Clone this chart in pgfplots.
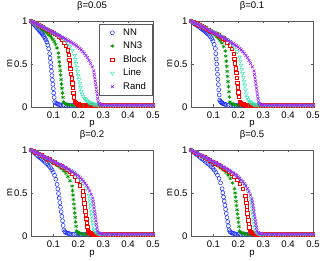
\documentclass[border=0pt]{standalone}
\usepackage{pgfplots}
\usepackage{pgfplotstable}
\pgfplotsset{compat=1.18}
\usepackage{fontspec}
\setmainfont{Liberation Sans}
\newcommand\ff{\fontsize{9.6}{10.5}\selectfont}
\definecolor{cNN}{RGB}{20,40,255}
\definecolor{cNNt}{RGB}{0,150,0}
\definecolor{cBl}{RGB}{255,0,0}
\definecolor{cLi}{RGB}{60,230,180}
\definecolor{cRa}{RGB}{160,40,255}
\pgfplotsset{
 sNN/.style={only marks, mark=o, mark size=2bp, color=cNN, line width=0.5bp},
 sNNt/.style={only marks, mark=asterisk, mark size=2bp, color=cNNt, line width=0.6bp},
 sBl/.style={only marks, mark=square, mark size=1.7bp, color=cBl, line width=0.5bp},
 sLi/.style={only marks, mark=triangle, mark size=2.2bp, mark options={rotate=180}, color=cLi, line width=0.5bp},
 sRa/.style={only marks, mark=x, mark size=2bp, color=cRa, line width=0.7bp},
 panel/.style={
  scale only axis, width=122bp, height=86bp,
  xmin=0.01, xmax=0.5, ymin=0, ymax=1, clip=false,
  xtick={0.1,0.2,0.3,0.4,0.5}, ytick={0,0.5,1},
  xticklabels={0.1,0.2,0.3,0.4,0.5}, yticklabels={0,0.5,1},
  tick align=inside, major tick length=2.5bp,
  axis line style={black!65, line width=0.5bp},
  every tick/.style={black!65, line width=0.4bp},
  xlabel={p}, ylabel={m},
  label style={font=\ff}, tick label style={font=\ff},
  title style={font=\ff, at={(0.5,1)}, anchor=base, yshift=7bp, inner sep=0pt},
  xlabel style={at={(axis description cs:0.5,0)}, anchor=base, yshift=-19bp, inner sep=0pt},
  ylabel style={at={(axis description cs:-0.153,0.5)}, anchor=base, inner sep=0pt},
  xticklabel style={anchor=base, yshift=-11.5bp, inner sep=0pt},
  legend image code/.code={\path (-8.5bp,0) (8.5bp,0); \draw[#1] plot coordinates {(0bp,0bp)};},
 }
}
\pgfplotstableread{
p m
0.13 0.02
0.14 0.02
0.15 0.02
0.16 0.02
0.17 0.02
0.18 0.02
0.19 0.02
0.20 0.02
0.21 0.02
0.22 0.02
0.23 0.02
0.24 0.02
0.25 0.02
0.26 0.02
0.27 0.02
0.28 0.02
0.29 0.02
0.30 0.02
0.31 0.02
0.32 0.02
0.33 0.02
0.34 0.02
0.35 0.02
0.36 0.02
0.37 0.02
0.38 0.02
0.39 0.02
0.40 0.02
0.41 0.02
0.42 0.02
0.43 0.02
0.44 0.02
0.45 0.02
0.46 0.02
0.47 0.02
0.48 0.02
0.49 0.02
0.50 0.02
}\tail
\begin{document}
\begin{tikzpicture}
\useasboundingbox (0,0) rectangle (320bp,261bp);
% ---------------- beta = 0.05
\begin{axis}[panel, at={(31bp,154bp)}, anchor=south west, title={β=0.05},
 legend style={at={(axis description cs:0.998,0.965)}, anchor=north east, draw=black!65, line width=0.4bp, font=\ff, row sep=1.2bp, inner xsep=4bp, inner ysep=2.5bp, fill=white},
 legend cell align=left]
\addplot[sNN] coordinates {(0.01,1)(0.0138,0.988)(0.0175,0.975)(0.0213,0.963)(0.025,0.951)(0.0288,0.938)(0.0325,0.926)(0.0363,0.914)(0.04,0.901)(0.0438,0.889)(0.0475,0.876)(0.0513,0.863)(0.055,0.85)(0.0588,0.835)(0.0625,0.819)(0.0663,0.801)(0.07,0.78)(0.0738,0.754)(0.0775,0.72)(0.0813,0.677)(0.085,0.62)
(0.0868,0.569)(0.0886,0.518)(0.0905,0.467)(0.0923,0.416)(0.0941,0.365)(0.0959,0.315)(0.0977,0.264)(0.0995,0.213)(0.1014,0.162)(0.1032,0.111)(0.105,0.06)(0.11,0.045)(0.115,0.037)(0.12,0.03)(0.125,0.027)};
\addlegendentry{NN}
\addplot[sNN, forget plot, restrict x to domain=0.13:0.5] table[x=p,y=m]{\tail};
\addplot[sNNt] coordinates {(0.01,1)(0.0155,0.988)(0.021,0.976)(0.0265,0.964)(0.032,0.952)(0.0375,0.94)(0.043,0.928)(0.0485,0.916)(0.054,0.904)(0.0595,0.892)(0.065,0.879)(0.0705,0.867)(0.076,0.854)(0.0815,0.84)(0.087,0.824)(0.0925,0.807)(0.098,0.786)(0.1035,0.76)(0.109,0.728)(0.1145,0.686)(0.12,0.63)
(0.1218,0.578)(0.1236,0.526)(0.1255,0.475)(0.1273,0.423)(0.1291,0.371)(0.1309,0.319)(0.1327,0.267)(0.1345,0.216)(0.1364,0.164)(0.1382,0.112)(0.14,0.06)(0.145,0.045)(0.15,0.037)(0.155,0.03)(0.16,0.027)};
\addlegendentry{NN3}
\addplot[sNNt, forget plot, restrict x to domain=0.17:0.5] table[x=p,y=m]{\tail};
\addplot[sBl] coordinates {(0.01,1)(0.0174,0.989)(0.0248,0.978)(0.0322,0.967)(0.0396,0.956)(0.047,0.945)(0.0544,0.934)(0.0618,0.923)(0.0692,0.912)(0.0766,0.9)(0.084,0.889)(0.0914,0.877)(0.0988,0.865)(0.1062,0.853)(0.1136,0.838)(0.121,0.822)(0.1284,0.803)(0.1358,0.78)(0.1432,0.75)(0.1506,0.711)(0.158,0.66)
(0.1605,0.605)(0.1629,0.551)(0.1654,0.496)(0.1678,0.442)(0.1703,0.387)(0.1727,0.333)(0.1752,0.278)(0.1776,0.224)(0.1801,0.169)(0.1825,0.115)(0.185,0.06)(0.19,0.05)(0.195,0.04)(0.2,0.033)(0.205,0.028)};
\addlegendentry{Block}
\addplot[sBl, forget plot, restrict x to domain=0.21:0.5] table[x=p,y=m]{\tail};
\addplot[sLi] coordinates {(0.01,1)(0.0188,0.987)(0.0275,0.974)(0.0363,0.961)(0.045,0.948)(0.0538,0.935)(0.0625,0.922)(0.0713,0.909)(0.08,0.896)(0.0888,0.883)(0.0975,0.869)(0.1063,0.856)(0.115,0.842)(0.1238,0.827)(0.1325,0.81)(0.1413,0.791)(0.15,0.769)(0.1588,0.741)(0.1675,0.706)(0.1763,0.66)(0.185,0.6)
(0.188,0.553)(0.191,0.507)(0.194,0.46)(0.197,0.413)(0.2,0.367)(0.203,0.32)(0.206,0.273)(0.209,0.227)(0.212,0.18)(0.215,0.15)(0.22,0.12)(0.225,0.1)(0.23,0.085)(0.235,0.072)(0.24,0.062)(0.245,0.054)(0.25,0.047)(0.255,0.042)(0.26,0.037)(0.265,0.033)(0.27,0.03)(0.275,0.027)};
\addlegendentry{Line}
\addplot[sLi, forget plot, restrict x to domain=0.28:0.5] table[x=p,y=m]{\tail};
\addplot[sRa] coordinates {(0.01,1)(0.0226,0.981)(0.0352,0.962)(0.0478,0.943)(0.0604,0.925)(0.073,0.906)(0.0856,0.887)(0.0982,0.868)(0.1108,0.849)(0.1234,0.83)(0.136,0.811)(0.1486,0.791)(0.1612,0.77)(0.1738,0.748)(0.1864,0.724)(0.199,0.697)(0.2116,0.664)(0.2242,0.624)(0.2368,0.573)(0.2494,0.507)(0.262,0.42)
(0.0163,0.991)(0.0289,0.972)(0.0415,0.953)(0.0541,0.934)(0.0667,0.915)(0.0793,0.896)(0.0919,0.877)(0.1045,0.859)(0.1171,0.84)(0.1297,0.82)(0.1423,0.801)(0.1549,0.781)(0.1675,0.76)(0.1801,0.737)(0.1927,0.711)(0.2053,0.681)(0.2179,0.645)(0.2305,0.6)(0.2431,0.542)(0.2557,0.467)
(0.264,0.38)(0.266,0.34)(0.268,0.3)(0.27,0.26)(0.272,0.22)(0.274,0.18)(0.276,0.14)(0.278,0.1)(0.28,0.06)(0.285,0.04)(0.29,0.03)(0.295,0.025)};
\addlegendentry{Rand}
\addplot[sRa, forget plot, restrict x to domain=0.30:0.5] table[x=p,y=m]{\tail};
\end{axis}
% ---------------- beta = 0.1
\begin{axis}[panel, at={(191bp,154bp)}, anchor=south west, title={β=0.1}]
\addplot[sNN] coordinates {(0.01,1)(0.0149,0.99)(0.0198,0.979)(0.0247,0.969)(0.0296,0.958)(0.0345,0.948)(0.0394,0.938)(0.0443,0.927)(0.0492,0.917)(0.0541,0.906)(0.059,0.896)(0.0639,0.885)(0.0688,0.873)(0.0737,0.861)(0.0786,0.848)(0.0835,0.833)(0.0884,0.815)(0.0933,0.793)(0.0982,0.765)(0.1031,0.728)(0.108,0.68)
(0.1097,0.62)(0.1114,0.56)(0.1131,0.5)(0.1148,0.44)(0.1165,0.38)(0.1182,0.32)(0.1199,0.26)(0.1216,0.2)(0.1233,0.14)(0.125,0.08)(0.128,0.065)(0.131,0.055)(0.134,0.048)(0.137,0.042)(0.14,0.037)(0.145,0.032)(0.15,0.028)};
\addplot[sNN, forget plot, restrict x to domain=0.16:0.5] table[x=p,y=m]{\tail};
\addplot[sNNt] coordinates {(0.01,1)(0.0169,0.989)(0.0238,0.977)(0.0307,0.966)(0.0376,0.955)(0.0445,0.943)(0.0514,0.932)(0.0583,0.92)(0.0652,0.909)(0.0721,0.897)(0.079,0.886)(0.0859,0.874)(0.0928,0.861)(0.0997,0.848)(0.1066,0.834)(0.1135,0.817)(0.1204,0.797)(0.1273,0.773)(0.1342,0.743)(0.1411,0.703)(0.148,0.65)
(0.1498,0.591)(0.1516,0.532)(0.1534,0.473)(0.1552,0.414)(0.157,0.355)(0.1588,0.296)(0.1606,0.237)(0.1624,0.178)(0.1642,0.119)(0.166,0.06)(0.17,0.045)(0.175,0.037)(0.18,0.031)(0.185,0.027)};
\addplot[sNNt, forget plot, restrict x to domain=0.19:0.5] table[x=p,y=m]{\tail};
\addplot[sBl] coordinates {(0.01,1)(0.0186,0.988)(0.0272,0.975)(0.0358,0.963)(0.0444,0.951)(0.053,0.938)(0.0616,0.926)(0.0702,0.914)(0.0788,0.901)(0.0874,0.889)(0.096,0.876)(0.1046,0.863)(0.1132,0.85)(0.1218,0.835)(0.1304,0.819)(0.139,0.801)(0.1476,0.78)(0.1562,0.754)(0.1648,0.72)(0.1734,0.677)(0.182,0.62)
(0.1843,0.564)(0.1866,0.508)(0.1889,0.452)(0.1912,0.396)(0.1935,0.34)(0.1958,0.284)(0.1981,0.228)(0.2004,0.172)(0.2027,0.116)(0.205,0.06)(0.21,0.045)(0.215,0.036)(0.22,0.03)(0.225,0.027)};
\addplot[sBl, forget plot, restrict x to domain=0.23:0.5] table[x=p,y=m]{\tail};
\addplot[sLi] coordinates {(0.01,1)(0.0198,0.986)(0.0295,0.973)(0.0393,0.959)(0.049,0.945)(0.0588,0.932)(0.0685,0.918)(0.0783,0.904)(0.088,0.891)(0.0978,0.877)(0.1075,0.863)(0.1173,0.849)(0.127,0.834)(0.1368,0.818)(0.1465,0.8)(0.1563,0.781)(0.166,0.757)(0.1758,0.728)(0.1855,0.691)(0.1953,0.643)(0.205,0.58)
(0.208,0.532)(0.211,0.484)(0.214,0.437)(0.217,0.389)(0.22,0.341)(0.223,0.293)(0.226,0.246)(0.229,0.198)(0.232,0.15)(0.236,0.11)(0.24,0.085)(0.245,0.065)(0.25,0.052)(0.255,0.043)(0.26,0.036)(0.265,0.031)(0.27,0.028)(0.275,0.026)};
\addplot[sLi, forget plot, restrict x to domain=0.28:0.5] table[x=p,y=m]{\tail};
\addplot[sRa] coordinates {(0.01,1)(0.0226,0.981)(0.0352,0.962)(0.0478,0.943)(0.0604,0.925)(0.073,0.906)(0.0856,0.887)(0.0982,0.868)(0.1108,0.849)(0.1234,0.83)(0.136,0.811)(0.1486,0.791)(0.1612,0.77)(0.1738,0.748)(0.1864,0.724)(0.199,0.697)(0.2116,0.664)(0.2242,0.624)(0.2368,0.573)(0.2494,0.507)(0.263,0.42)
(0.0163,0.991)(0.0289,0.972)(0.0415,0.953)(0.0541,0.934)(0.0667,0.915)(0.0793,0.896)(0.0919,0.877)(0.1045,0.859)(0.1171,0.84)(0.1297,0.82)(0.1423,0.801)(0.1549,0.781)(0.1675,0.76)(0.1801,0.737)(0.1927,0.711)(0.2053,0.681)(0.2179,0.645)(0.2305,0.6)(0.2431,0.542)(0.2562,0.467)
(0.265,0.38)(0.267,0.34)(0.269,0.3)(0.271,0.26)(0.273,0.22)(0.275,0.18)(0.277,0.14)(0.279,0.1)(0.281,0.06)(0.286,0.04)(0.291,0.03)(0.296,0.025)};
\addplot[sRa, forget plot, restrict x to domain=0.30:0.5] table[x=p,y=m]{\tail};
\end{axis}
% ---------------- beta = 0.2
\begin{axis}[panel, at={(31bp,25bp)}, anchor=south west, title={β=0.2}]
\addplot[sNN] coordinates {(0.01,1)(0.0153,0.987)(0.0205,0.974)(0.0258,0.961)(0.031,0.948)(0.0363,0.935)(0.0415,0.922)(0.0468,0.909)(0.052,0.896)(0.0573,0.883)(0.0625,0.869)(0.0678,0.856)(0.073,0.842)(0.0783,0.827)(0.0835,0.81)(0.0888,0.791)(0.094,0.769)(0.0993,0.741)(0.1045,0.706)(0.1098,0.66)(0.115,0.6)
(0.1177,0.547)(0.1204,0.494)(0.1231,0.441)(0.1258,0.388)(0.1285,0.335)(0.1312,0.282)(0.1339,0.229)(0.1366,0.176)(0.1393,0.123)(0.142,0.07)(0.146,0.05)(0.15,0.04)(0.155,0.034)(0.16,0.03)(0.165,0.027)};
\addplot[sNN, forget plot, restrict x to domain=0.17:0.5] table[x=p,y=m]{\tail};
\addplot[sNNt] coordinates {(0.01,1)(0.0183,0.986)(0.0265,0.973)(0.0348,0.959)(0.043,0.945)(0.0513,0.932)(0.0595,0.918)(0.0678,0.904)(0.076,0.891)(0.0843,0.877)(0.0925,0.863)(0.1008,0.849)(0.109,0.834)(0.1173,0.818)(0.1255,0.8)(0.1338,0.781)(0.142,0.757)(0.1503,0.728)(0.1585,0.691)(0.1668,0.643)(0.175,0.58)
(0.1768,0.528)(0.1786,0.476)(0.1804,0.424)(0.1822,0.372)(0.184,0.32)(0.1858,0.268)(0.1876,0.216)(0.1894,0.164)(0.1912,0.112)(0.193,0.06)(0.197,0.045)(0.2,0.038)(0.205,0.032)(0.21,0.028)};
\addplot[sNNt, forget plot, restrict x to domain=0.22:0.5] table[x=p,y=m]{\tail};
\addplot[sBl] coordinates {(0.01,1)(0.0204,0.984)(0.0307,0.969)(0.0411,0.953)(0.0514,0.938)(0.0618,0.922)(0.0721,0.906)(0.0825,0.891)(0.0928,0.875)(0.1032,0.859)(0.1135,0.843)(0.1239,0.827)(0.1342,0.81)(0.1446,0.792)(0.1549,0.772)(0.1653,0.749)(0.1756,0.722)(0.186,0.689)(0.1963,0.647)(0.2067,0.592)(0.217,0.52)
(0.2191,0.474)(0.2212,0.428)(0.2233,0.382)(0.2254,0.336)(0.2275,0.29)(0.2296,0.244)(0.2317,0.198)(0.2338,0.152)(0.2359,0.106)(0.238,0.06)(0.242,0.045)(0.246,0.036)(0.25,0.031)(0.255,0.027)};
\addplot[sBl, forget plot, restrict x to domain=0.26:0.5] table[x=p,y=m]{\tail};
\addplot[sLi] coordinates {(0.01,1)(0.0217,0.983)(0.0333,0.966)(0.045,0.948)(0.0566,0.931)(0.0683,0.914)(0.0799,0.897)(0.0916,0.879)(0.1032,0.862)(0.1149,0.845)(0.1265,0.827)(0.1382,0.809)(0.1498,0.79)(0.1615,0.77)(0.1731,0.748)(0.1848,0.723)(0.1964,0.693)(0.2081,0.657)(0.2197,0.61)(0.2314,0.55)(0.243,0.47)
(0.2449,0.431)(0.2468,0.392)(0.2487,0.353)(0.2506,0.314)(0.2525,0.275)(0.2544,0.236)(0.2563,0.197)(0.2582,0.158)(0.2601,0.119)(0.262,0.08)(0.266,0.06)(0.27,0.045)(0.275,0.035)(0.28,0.03)(0.285,0.027)};
\addplot[sLi, forget plot, restrict x to domain=0.29:0.5] table[x=p,y=m]{\tail};
\addplot[sRa] coordinates {(0.01,1)(0.0224,0.982)(0.0348,0.964)(0.0472,0.945)(0.0596,0.927)(0.072,0.909)(0.0844,0.891)(0.0968,0.873)(0.1092,0.854)(0.1216,0.836)(0.134,0.817)(0.1464,0.798)(0.1588,0.778)(0.1712,0.757)(0.1836,0.734)(0.196,0.707)(0.2084,0.676)(0.2208,0.637)(0.2332,0.588)(0.2456,0.524)(0.258,0.44)
(0.0162,0.991)(0.0286,0.973)(0.041,0.955)(0.0534,0.936)(0.0658,0.918)(0.0782,0.9)(0.0906,0.882)(0.103,0.863)(0.1154,0.845)(0.1278,0.827)(0.1402,0.808)(0.1526,0.788)(0.165,0.768)(0.1774,0.746)(0.1898,0.721)(0.2022,0.692)(0.2146,0.658)(0.227,0.614)(0.2394,0.558)(0.2518,0.485)
(0.2599,0.402)(0.2618,0.364)(0.2637,0.326)(0.2656,0.288)(0.2675,0.25)(0.2694,0.212)(0.2713,0.174)(0.2732,0.136)(0.2751,0.098)(0.277,0.06)(0.282,0.04)(0.287,0.03)(0.292,0.026)};
\addplot[sRa, forget plot, restrict x to domain=0.30:0.5] table[x=p,y=m]{\tail};
\end{axis}
% ---------------- beta = 0.5
\begin{axis}[panel, at={(191bp,25bp)}, anchor=south west, title={β=0.5}]
\addplot[sNN] coordinates {(0.01,1)(0.0163,0.985)(0.0225,0.971)(0.0288,0.956)(0.035,0.942)(0.0413,0.927)(0.0475,0.912)(0.0538,0.898)(0.06,0.883)(0.0663,0.868)(0.0725,0.853)(0.0788,0.838)(0.085,0.822)(0.0913,0.805)(0.0975,0.786)(0.1038,0.765)(0.11,0.74)(0.1163,0.708)(0.1225,0.669)(0.1288,0.618)(0.135,0.55)
(0.1378,0.502)(0.1406,0.454)(0.1434,0.406)(0.1462,0.358)(0.149,0.31)(0.1518,0.262)(0.1546,0.214)(0.1574,0.166)(0.1602,0.118)(0.163,0.07)(0.167,0.05)(0.171,0.04)(0.175,0.034)(0.18,0.03)(0.185,0.027)};
\addplot[sNN, forget plot, restrict x to domain=0.19:0.5] table[x=p,y=m]{\tail};
\addplot[sNNt] coordinates {(0.01,1)(0.0188,0.985)(0.0275,0.971)(0.0363,0.956)(0.045,0.942)(0.0538,0.927)(0.0625,0.912)(0.0713,0.898)(0.08,0.883)(0.0888,0.868)(0.0975,0.853)(0.1063,0.838)(0.115,0.822)(0.1238,0.805)(0.1325,0.786)(0.1413,0.765)(0.15,0.74)(0.1588,0.708)(0.1675,0.669)(0.1763,0.618)(0.185,0.55)
(0.187,0.501)(0.189,0.452)(0.191,0.403)(0.193,0.354)(0.195,0.305)(0.197,0.256)(0.199,0.207)(0.201,0.158)(0.203,0.109)(0.205,0.06)(0.21,0.045)(0.215,0.036)(0.22,0.03)(0.225,0.027)};
\addplot[sNNt, forget plot, restrict x to domain=0.23:0.5] table[x=p,y=m]{\tail};
\addplot[sBl] coordinates {(0.01,1)(0.0209,0.983)(0.0318,0.966)(0.0427,0.948)(0.0536,0.931)(0.0645,0.914)(0.0754,0.897)(0.0863,0.879)(0.0972,0.862)(0.1081,0.845)(0.119,0.827)(0.1299,0.809)(0.1408,0.79)(0.1517,0.77)(0.1626,0.748)(0.1735,0.723)(0.1844,0.693)(0.1953,0.657)(0.2062,0.61)(0.2171,0.55)(0.228,0.47)
(0.2297,0.429)(0.2314,0.388)(0.2331,0.347)(0.2348,0.306)(0.2365,0.265)(0.2382,0.224)(0.2399,0.183)(0.2416,0.142)(0.2433,0.101)(0.245,0.06)(0.25,0.045)(0.255,0.035)(0.26,0.03)(0.265,0.027)};
\addplot[sBl, forget plot, restrict x to domain=0.27:0.5] table[x=p,y=m]{\tail};
\addplot[sLi] coordinates {(0.01,1)(0.022,0.982)(0.034,0.964)(0.046,0.945)(0.058,0.927)(0.07,0.909)(0.082,0.891)(0.094,0.873)(0.106,0.854)(0.118,0.836)(0.13,0.817)(0.142,0.798)(0.154,0.778)(0.166,0.757)(0.178,0.734)(0.19,0.707)(0.202,0.676)(0.214,0.637)(0.226,0.588)(0.238,0.524)(0.25,0.44)
(0.2518,0.402)(0.2536,0.364)(0.2554,0.326)(0.2572,0.288)(0.259,0.25)(0.2608,0.212)(0.2626,0.174)(0.2644,0.136)(0.2662,0.098)(0.268,0.06)(0.272,0.045)(0.276,0.035)(0.28,0.03)(0.285,0.027)};
\addplot[sLi, forget plot, restrict x to domain=0.29:0.5] table[x=p,y=m]{\tail};
\addplot[sRa] coordinates {(0.01,1)(0.0223,0.981)(0.0345,0.963)(0.0468,0.944)(0.059,0.926)(0.0713,0.907)(0.0835,0.889)(0.0958,0.87)(0.108,0.852)(0.1203,0.833)(0.1325,0.814)(0.1448,0.795)(0.157,0.774)(0.1693,0.753)(0.1815,0.729)(0.1938,0.702)(0.206,0.67)(0.2183,0.631)(0.2305,0.581)(0.2428,0.516)(0.255,0.43)
(0.0161,0.991)(0.0284,0.972)(0.0406,0.954)(0.0529,0.935)(0.0651,0.917)(0.0774,0.898)(0.0896,0.88)(0.1019,0.861)(0.1141,0.842)(0.1264,0.824)(0.1386,0.804)(0.1509,0.785)(0.1631,0.764)(0.1754,0.741)(0.1876,0.716)(0.1999,0.687)(0.2121,0.652)(0.2244,0.607)(0.2366,0.55)(0.2489,0.476)
(0.257,0.393)(0.259,0.356)(0.261,0.319)(0.263,0.282)(0.265,0.245)(0.267,0.208)(0.269,0.171)(0.271,0.134)(0.273,0.097)(0.275,0.06)(0.28,0.04)(0.285,0.03)(0.29,0.026)};
\addplot[sRa, forget plot, restrict x to domain=0.30:0.5] table[x=p,y=m]{\tail};
\end{axis}
\end{tikzpicture}
\end{document}
